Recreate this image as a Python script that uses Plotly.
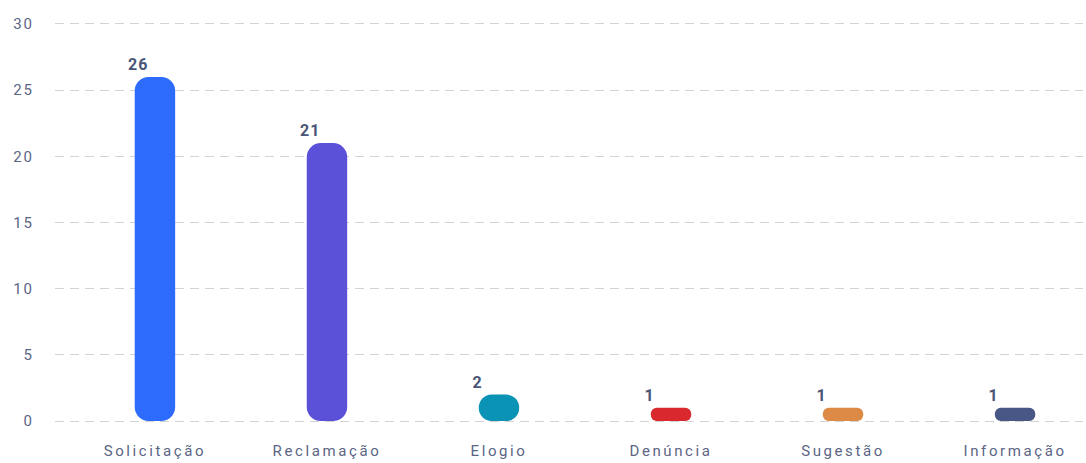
import plotly.graph_objects as go

categories = ["Solicitação", "Reclamação", "Elogio", "Denúncia", "Sugestão", "Informação"]
values = [26, 21, 2, 1, 1, 1]
colors = ["#2d6bfc", "#5b50d8", "#0a93b5", "#d9282e", "#de8a47", "#485785"]
y_ticks = [0, 5, 10, 15, 20, 25, 30]
bases = [0, 0, 0, 0, 0, 0]

fig = go.Figure()
fig.add_trace(go.Bar(x=categories, y=values, base=bases, width=0.235,
                     marker=dict(color=colors, cornerradius=14, line=dict(width=0)),
                     hoverinfo="skip"))

# value labels (left-aligned, slightly left of each bar)
for cat, val in zip(categories, values):
    fig.add_annotation(x=cat, y=val, text=str(val), showarrow=False,
                       xanchor="left", yanchor="bottom", xshift=-28, yshift=1,
                       font=dict(family="Roboto", size=16, color="#4a5577", weight="bold"))

fig.update_layout(
    width=1086, height=463,
    margin=dict(l=55, r=3, t=22, b=40),
    showlegend=False,
    plot_bgcolor="white", paper_bgcolor="white",
    font=dict(family="Roboto", size=14, color="#5b6585"),
    xaxis=dict(range=[-0.581, 5.395], showgrid=False, zeroline=False, showline=False,
               ticks="", automargin=False, ticklabelstandoff=17,
               tickfont=dict(size=15, color="#5b6585")),
    yaxis=dict(range=[-0.15, 30.15], tickvals=y_ticks, showgrid=True, gridcolor="#d3d3d3",
               griddash="9px,6px", gridwidth=1, zeroline=False, showline=False,
               automargin=False, ticklabelstandoff=20,
               tickfont=dict(size=15, color="#5b6585")),
)

post = """
var s=document.createElement('style');
s.innerHTML='body{margin:0}.xtick text{letter-spacing:2.6px}.ytick text{letter-spacing:2px}.annotation-text{letter-spacing:1px}';
document.head.appendChild(s);
"""
fig.write_html("out.html", post_script=post, config={"displayModeBar": False})
